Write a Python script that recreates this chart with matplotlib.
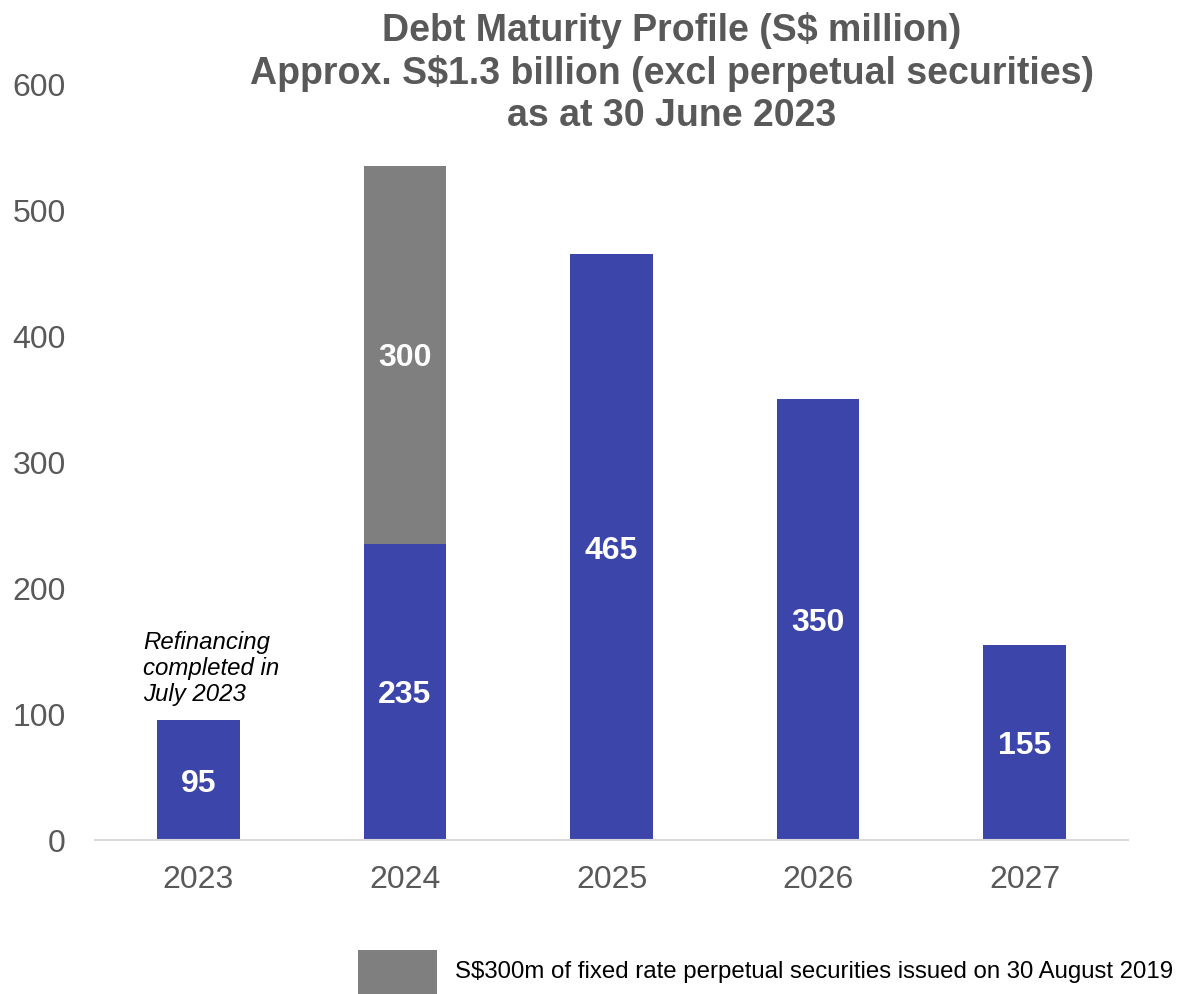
import matplotlib
matplotlib.use("Agg")
import matplotlib.pyplot as plt
from matplotlib.patches import Rectangle

plt.rcParams['font.family'] = ['Liberation Sans', 'DejaVu Sans']

years = ["2023", "2024", "2025", "2026", "2027"]
debt = [95, 235, 465, 350, 155]
perpetual = [0, 300, 0, 0, 0]
yticks = [0, 100, 200, 300, 400, 500, 600]

BLUE = "#3C46AA"
GRAY = "#7F7F7F"
TXT = "#595959"

W, H = 1179, 994
fig = plt.figure(figsize=(W / 100, H / 100), dpi=100)
ax = fig.add_axes([95 / W, 1 - 840 / H, (1128 - 95) / W, (840 - 84) / H])

x = list(range(len(years)))
ax.bar(x, debt, width=0.4, color=BLUE, zorder=2)
ax.bar(x, perpetual, width=0.4, bottom=debt, color=GRAY, zorder=2)

for i, v in enumerate(debt):
    ax.text(i, v / 2, str(v), ha='center', va='center_baseline', color='white',
            fontsize=23, fontweight='bold', zorder=3)
for i, v in enumerate(perpetual):
    if v > 0:
        ax.text(i, debt[i] + v / 2, str(v), ha='center', va='center_baseline', color='white',
                fontsize=23, fontweight='bold', zorder=3)

ax.set_xlim(-0.5, len(years) - 0.5)
ax.set_ylim(0, 600)
ax.set_yticks(yticks)
ax.set_xticks(x)
ax.set_xticklabels(years)
ax.tick_params(axis='both', length=0, labelsize=23, colors=TXT)
ax.tick_params(axis='y', pad=21)
ax.tick_params(axis='x', pad=18)
for s in ['top', 'right', 'left']:
    ax.spines[s].set_visible(False)
ax.spines['bottom'].set_color('#D9D9D9')
ax.spines['bottom'].set_linewidth(1.5)

ax.text(-0.268, 166, "Refinancing\ncompleted in\nJuly 2023", ha='left', va='top',
        fontsize=17.3, fontstyle='italic', color='black', linespacing=1.17)

fig.text(672 / W, 1 - 73 / H,
         "Debt Maturity Profile (S$ million)\nApprox. S$1.3 billion (excl perpetual securities)\nas at 30 June 2023",
         ha='center', va='center', fontsize=27, fontweight='bold', color=TXT, linespacing=1.2)

fig.patches.append(Rectangle((358 / W, 0), 79 / W, 44 / H, transform=fig.transFigure,
                             facecolor=GRAY, edgecolor='none'))
fig.text(455 / W, 22 / H, "S$300m of fixed rate perpetual securities issued on 30 August 2019",
         ha='left', va='center', fontsize=17.3, color='black')

fig.savefig("out.png", dpi=100)
